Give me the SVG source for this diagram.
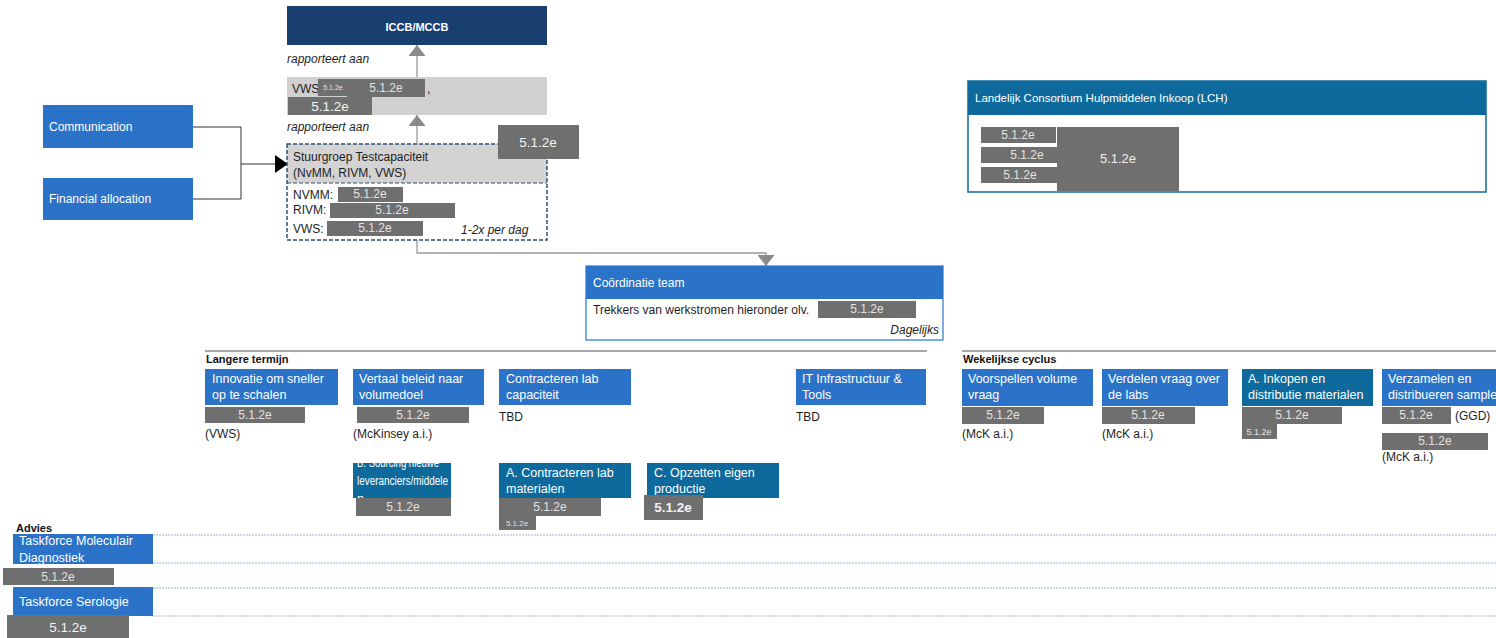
<svg xmlns="http://www.w3.org/2000/svg" width="1496" height="638" viewBox="0 0 1496 638">
<defs>
<style>
text{font-family:"Liberation Sans",Arial,sans-serif;}
.blue{fill:#2B73C9;}
.teal{fill:#0E6A9C;}
.navy{fill:#183F70;}
.red{fill:#6F6F6F;}
.rt{font-size:12px;fill:#E2E2E2;text-anchor:middle;}
.rb{font-size:13.5px;fill:#F4F4F4;text-anchor:middle;}
.rs{font-size:7px;fill:#E2E2E2;text-anchor:middle;}
.wt{font-size:12.5px;fill:#FFFFFF;}
.w12{font-size:12px;fill:#FFFFFF;}
.bt{font-size:12px;fill:#1E1E1E;}
.it{font-size:12px;fill:#1E1E1E;font-style:italic;}
.hd{font-size:11px;fill:#111;font-weight:bold;}
.sec{stroke:#A8A8A8;stroke-width:2;fill:none;}
.dot{stroke:#9DB6CB;stroke-width:1;stroke-dasharray:2,1;fill:none;}
.con{stroke:#9A9A9A;stroke-width:1.3;fill:none;}
.conk{stroke:#333;stroke-width:1;fill:none;}
</style>
<marker id="ag" markerUnits="userSpaceOnUse" viewBox="0 0 11 17" markerWidth="11" markerHeight="17" refX="11" refY="8.5" orient="auto">
<path d="M0,0 L11,8.5 L0,17 z" fill="#8A8A8A"/>
</marker>
<marker id="ak" markerUnits="userSpaceOnUse" viewBox="0 0 13 18" markerWidth="13" markerHeight="18" refX="13" refY="9" orient="auto">
<path d="M0,0 L13,9 L0,18 z" fill="#000"/>
</marker>
<clipPath id="clipB"><rect x="353" y="463" width="98" height="35"/></clipPath>
</defs>
<rect width="1496" height="638" fill="#FFFFFF"/>

<!-- section lines -->
<g id="sections">
<line class="sec" x1="205" y1="351" x2="927" y2="351"/>
<line class="sec" x1="962" y1="351" x2="1496" y2="351"/>
<text class="hd" x="206" y="363">Langere termijn</text>
<text class="hd" x="963" y="363">Wekelijkse cyclus</text>
<text class="hd" x="16" y="532">Advies</text>
<line class="dot" x1="153" y1="535" x2="1496" y2="535"/>
<line class="dot" x1="153" y1="563" x2="1496" y2="563"/>
<line class="dot" x1="153" y1="588" x2="1496" y2="588"/>
<line class="dot" x1="153" y1="616" x2="1496" y2="616"/>
</g>

<!-- connectors -->
<g id="connectors">
<line class="con" x1="417" y1="77" x2="417" y2="45" marker-end="url(#ag)"/>
<line class="con" x1="417" y1="144" x2="417" y2="115" marker-end="url(#ag)"/>
<path class="con" d="M417,240 V253 H766 V266" marker-end="url(#ag)"/>
<path class="conk" d="M193,127 H241 V199 H193"/>
<line class="conk" x1="241" y1="164" x2="288" y2="164" marker-end="url(#ak)"/>
</g>

<g id="iccb">
<rect class="navy" x="287" y="6" width="260" height="39"/>
<text x="417" y="31" font-size="11" font-weight="bold" fill="#fff" text-anchor="middle">ICCB/MCCB</text>
<text class="it" x="287" y="63">rapporteert aan</text>
</g>

<g id="vws">
<rect x="287" y="77" width="260" height="38" fill="#D0D0D0"/>
<text class="bt" x="292" y="93">VWS</text>
<rect class="red" x="318" y="79" width="30" height="17"/>
<text class="rs" x="333" y="90">5.1.2e</text>
<rect class="red" x="347" y="79" width="78" height="18"/>
<text class="rt" x="386" y="92">5.1.2e</text>
<text class="bt" x="427" y="93">,</text>
<rect class="red" x="288" y="97" width="84" height="18"/>
<text class="rb" x="330" y="111">5.1.2e</text>
<text class="it" x="287" y="131">rapporteert aan</text>
</g>

<g id="stuurgroep">
<rect x="287" y="144" width="260" height="39" fill="#D3D3D3"/>
<rect x="287" y="144" width="260" height="96" fill="none" stroke="#2F5273" stroke-width="1.5" stroke-dasharray="4,2"/>
<line x1="287" y1="183" x2="547" y2="183" stroke="#2F5273" stroke-width="1" stroke-dasharray="4,2"/>
<text class="bt" x="293" y="161">Stuurgroep Testcapaciteit</text>
<text class="bt" x="293" y="177">(NvMM, RIVM, VWS)</text>
<text class="bt" x="293" y="199">NVMM:</text>
<rect class="red" x="338" y="187" width="65" height="15"/>
<text class="rt" x="370" y="198">5.1.2e</text>
<text class="bt" x="293" y="214">RIVM:</text>
<rect class="red" x="330" y="203" width="125" height="15"/>
<text class="rt" x="392" y="214">5.1.2e</text>
<text class="bt" x="293" y="233">VWS:</text>
<rect class="red" x="327" y="221" width="96" height="15"/>
<text class="rt" x="375" y="232">5.1.2e</text>
<text class="it" x="461" y="234">1-2x per dag</text>
<rect class="red" x="498" y="125" width="81" height="34"/>
<text class="rb" x="538" y="147">5.1.2e</text>
</g>

<g id="communication">
<rect class="blue" x="43" y="105" width="150" height="43"/>
<text class="w12" x="49" y="131">Communication</text>
</g>
<g id="financial">
<rect class="blue" x="43" y="178" width="150" height="42"/>
<text class="w12" x="49" y="203">Financial allocation</text>
</g>

<g id="lch">
<rect x="968" y="81" width="518" height="111" fill="#fff" stroke="#0E6A9C" stroke-width="1.5"/>
<rect class="teal" x="968" y="81" width="518" height="34"/>
<text x="975" y="102" font-size="11.5" fill="#fff">Landelijk Consortium Hulpmiddelen Inkoop (LCH)</text>
<rect class="red" x="981" y="127" width="75" height="16"/>
<text class="rt" x="1018" y="139">5.1.2e</text>
<rect class="red" x="981" y="147" width="76" height="16"/>
<text class="rt" x="1027" y="159">5.1.2e</text>
<rect class="red" x="981" y="167" width="76" height="16"/>
<text class="rt" x="1020" y="179">5.1.2e</text>
<rect class="red" x="1057" y="127" width="122" height="64"/>
<text x="1118" y="163" font-size="13" fill="#F0F0F0" text-anchor="middle">5.1.2e</text>
</g>

<g id="coordinatie">
<rect x="586" y="266" width="357" height="74" fill="#fff" stroke="#2B73C9" stroke-width="1.2"/>
<rect class="blue" x="586" y="266" width="357" height="33"/>
<text class="w12" x="593" y="287">Coördinatie team</text>
<text class="bt" x="593" y="314">Trekkers van werkstromen hieronder olv.</text>
<rect class="red" x="818" y="301" width="98" height="17"/>
<text class="rt" x="867" y="313">5.1.2e</text>
<text class="it" x="939" y="334" text-anchor="end">Dagelijks</text>
</g>

<g id="innovatie">
<rect class="blue" x="205" y="369" width="133" height="36"/>
<text class="wt" x="212" y="383">Innovatie om sneller</text>
<text class="wt" x="212" y="399">op te schalen</text>
<rect class="red" x="205" y="407" width="100" height="16"/>
<text class="rt" x="255" y="419">5.1.2e</text>
<text class="bt" x="205" y="438">(VWS)</text>
</g>

<g id="vertaal">
<rect class="blue" x="353" y="369" width="131" height="36"/>
<text class="wt" x="359" y="383">Vertaal beleid naar</text>
<text class="wt" x="359" y="399">volumedoel</text>
<rect class="red" x="357" y="407" width="112" height="16"/>
<text class="rt" x="413" y="419">5.1.2e</text>
<text class="bt" x="353" y="438">(McKinsey a.i.)</text>
</g>

<g id="contracteren-lab">
<rect class="blue" x="499" y="369" width="132" height="36"/>
<text class="wt" x="506" y="383">Contracteren lab</text>
<text class="wt" x="506" y="399">capaciteit</text>
<text class="bt" x="499" y="421">TBD</text>
</g>

<g id="it-infra">
<rect class="blue" x="796" y="369" width="130" height="36"/>
<text class="wt" x="802" y="383">IT Infrastructuur &amp;</text>
<text class="wt" x="802" y="399">Tools</text>
<text class="bt" x="796" y="421">TBD</text>
</g>

<g id="sourcing">
<rect class="teal" x="353" y="463" width="98" height="35"/>
<g clip-path="url(#clipB)">
<text class="wt" x="357" y="467" textLength="82" lengthAdjust="spacingAndGlyphs">B. Sourcing nieuwe</text>
<text class="wt" x="357" y="485" textLength="91" lengthAdjust="spacingAndGlyphs">leveranciers/middele</text>
<text class="wt" x="357" y="503">n</text>
</g>
<rect class="red" x="356" y="498" width="95" height="18"/>
<text class="rt" x="403" y="511">5.1.2e</text>
</g>

<g id="contracteren-mat">
<rect class="teal" x="499" y="463" width="132" height="35"/>
<text class="wt" x="506" y="477">A. Contracteren lab</text>
<text class="wt" x="506" y="493">materialen</text>
<rect class="red" x="499" y="498" width="102" height="18"/>
<text class="rt" x="550" y="511">5.1.2e</text>
<rect class="red" x="499" y="516" width="37" height="14"/>
<text x="517" y="526" font-size="8" fill="#E2E2E2" text-anchor="middle">5.1.2e</text>
</g>

<g id="opzetten">
<rect class="teal" x="647" y="463" width="132" height="35"/>
<text class="wt" x="654" y="477">C. Opzetten eigen</text>
<text class="wt" x="654" y="493">productie</text>
<rect class="red" x="644" y="495" width="59" height="25"/>
<text x="673" y="512" font-size="13.5" font-weight="bold" fill="#F4F4F4" text-anchor="middle">5.1.2e</text>
</g>

<g id="voorspellen">
<rect class="blue" x="962" y="369" width="131" height="37"/>
<text class="wt" x="968" y="383">Voorspellen volume</text>
<text class="wt" x="968" y="399">vraag</text>
<rect class="red" x="962" y="407" width="82" height="17"/>
<text class="rt" x="1003" y="419">5.1.2e</text>
<text class="bt" x="962" y="438">(McK a.i.)</text>
</g>

<g id="verdelen">
<rect class="blue" x="1102" y="369" width="126" height="37"/>
<text class="wt" x="1108" y="383">Verdelen vraag over</text>
<text class="wt" x="1108" y="399">de labs</text>
<rect class="red" x="1102" y="407" width="93" height="17"/>
<text class="rt" x="1148" y="419">5.1.2e</text>
<text class="bt" x="1102" y="438">(McK a.i.)</text>
</g>

<g id="inkopen">
<rect class="teal" x="1242" y="369" width="131" height="37"/>
<text class="wt" x="1248" y="383">A. Inkopen en</text>
<text class="wt" x="1248" y="399">distributie materialen</text>
<rect class="red" x="1242" y="407" width="100" height="17"/>
<text class="rt" x="1292" y="419">5.1.2e</text>
<rect class="red" x="1242" y="424" width="35" height="15"/>
<text x="1259" y="435" font-size="9" fill="#E2E2E2" text-anchor="middle">5.1.2e</text>
</g>

<g id="verzamelen">
<rect class="blue" x="1382" y="369" width="120" height="37"/>
<text class="wt" x="1388" y="383">Verzamelen en</text>
<text class="wt" x="1388" y="399">distribueren samples</text>
<rect class="red" x="1382" y="407" width="69" height="17"/>
<text class="rt" x="1416" y="419">5.1.2e</text>
<text class="bt" x="1455" y="420">(GGD)</text>
<rect class="red" x="1382" y="433" width="106" height="17"/>
<text class="rt" x="1435" y="445">5.1.2e</text>
<text class="bt" x="1382" y="461">(McK a.i.)</text>
</g>

<g id="taskforce-mol">
<rect class="blue" x="13" y="534" width="140" height="30"/>
<text class="wt" x="19" y="545">Taskforce Moleculair</text>
<text class="wt" x="19" y="562">Diagnostiek</text>
<rect class="red" x="3" y="568" width="111" height="17"/>
<text class="rt" x="58" y="581">5.1.2e</text>
</g>

<g id="taskforce-ser">
<rect class="blue" x="13" y="587" width="140" height="29"/>
<text class="wt" x="19" y="606">Taskforce Serologie</text>
<rect class="red" x="7" y="615" width="122" height="23"/>
<text class="rb" x="68" y="632">5.1.2e</text>
</g>
</svg>
